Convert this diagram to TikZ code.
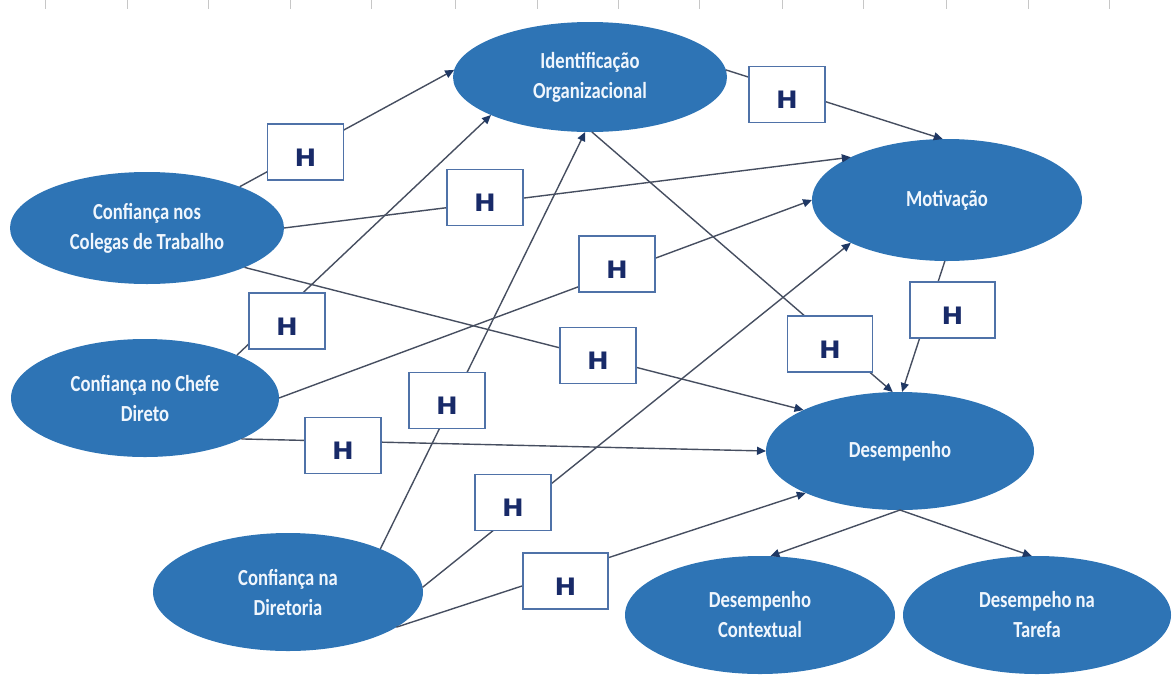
\documentclass[tikz,border=0pt]{standalone}
\usepackage{fontspec}
\usetikzlibrary{arrows.meta,shapes.geometric}
\newfontfamily\lblfont{Carlito}[FakeStretch=0.81]
\newfontfamily\hfont{DejaVu Sans}[FakeStretch=1.08]
\definecolor{ellblue}{RGB}{46,116,181}
\definecolor{lbltext}{RGB}{240,246,253}
\definecolor{linegray}{RGB}{70,78,96}
\definecolor{tipnavy}{RGB}{31,56,100}
\definecolor{boxedge}{RGB}{79,114,168}
\definecolor{hnavy}{RGB}{24,42,104}
\begin{document}
\begin{tikzpicture}[x=1pt,y=-1pt,
  ell/.style={ellipse, fill=ellblue, inner sep=0pt, outer sep=0pt, text=lbltext, align=center,
    minimum width=270pt, minimum height=118pt,
    font=\lblfont\bfseries\fontsize{23}{30}\selectfont},
  link/.style={draw=linegray, line width=1.4pt, -{Triangle[length=9pt,width=8pt,color=tipnavy]}},
  hbox/.style={draw=boxedge, line width=1.4pt, fill=white, minimum width=76pt, minimum height=56pt,
    inner sep=0pt, font=\hfont\bfseries\fontsize{24}{24}\selectfont, text=hnavy,
    text height=28pt, text depth=0pt},
  wbox/.style={hbox, minimum width=85pt},
  tickmark/.style={draw=black!22, line width=0.6pt}]
\useasboundingbox (0,0) rectangle (1172,675);
\foreach \tx in {45,127,208,290,371,455,537,618,699,782,863,946,1028,1109}
  \draw[tickmark] (\tx,0) -- (\tx,9);

% ellipses
\node[ell, minimum width=274pt, minimum height=110pt] (ido) at (590,77) {Identificação\\Organizacional};
\node[ell, minimum height=122pt] (mot) at (947,200) {Motivação};
\node[ell, minimum width=274pt, minimum height=112pt] (col) at (147,228) {Confiança nos\\Colegas de Trabalho};
\node[ell, minimum width=268pt] (che) at (145,398) {Confiança no Chefe\\Direto};
\node[ell, minimum width=268pt] (des) at (900,451) {Desempenho};
\node[ell] (dir) at (288,592) {Confiança na\\Diretoria};
\node[ell] (ctx) at (760,615) {Desempenho\\Contextual};
\node[ell, minimum width=268pt] (tar) at (1037,615) {Desempeho na\\Tarefa};

% connectors
\draw[link] (col.24) -- (ido.177);
\draw[link] (col.0) -- (mot.156);
\draw[link] (col.-22) -- (des.157);
\draw[link] (ido.3) -- (mot.94);
\draw[link] (ido.272) -- (des.97);
\draw[link] (che.25) -- (ido.201);
\draw[link] (che.0) -- (mot.180);
\draw[link] (che.-23) -- (des.180);
\draw[link] (dir.25) -- (ido.265);
\draw[link] (dir.2) -- (mot.204);
\draw[link] (dir.-18) -- (des.204);
\draw[link] (mot.268) -- (des.88);
\draw[link] (des.270) -- (ctx.80);
\draw[link] (des.270) -- (tar.95);

% H boxes
\node[hbox] (h1) at (305.5,152) {H};
\node[hbox] (h2) at (485,197.5) {H};
\node[hbox] (h3) at (787,94.5) {H};
\node[hbox] (h4) at (617,264) {H};
\node[hbox] (h5) at (287,321) {H};
\node[hbox] (h6) at (598,355.5) {H};
\node[wbox] (h7) at (830,344) {H};
\node[wbox] (h8) at (952.5,310) {H};
\node[hbox] (h9) at (447,400.5) {H};
\node[hbox] (h10) at (343,445.5) {H};
\node[hbox] (h11) at (513,502.5) {H};
\node[wbox] (h12) at (565.5,581) {H};
\end{tikzpicture}
\end{document}
